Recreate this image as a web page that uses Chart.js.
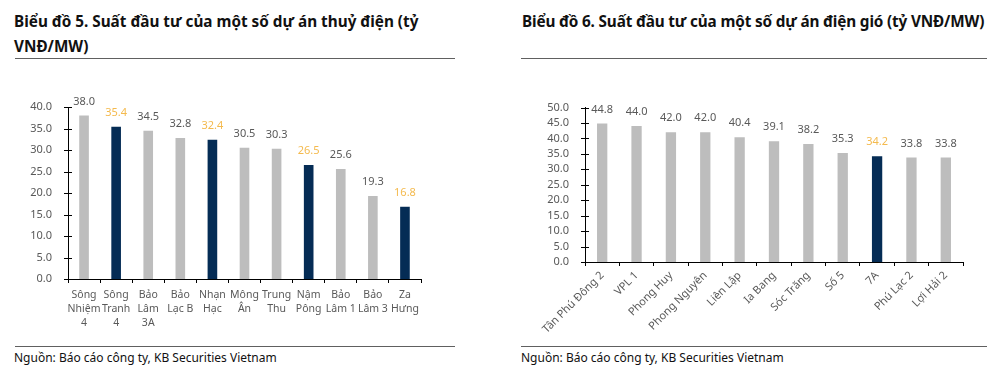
<!DOCTYPE html>
<html>
<head>
<meta charset="utf-8">
<script src="https://cdn.jsdelivr.net/npm/chart.js@4.4.1/dist/chart.umd.min.js"></script>
<style>
  html, body { margin:0; padding:0; background:#fff; width:1000px; height:369px; overflow:hidden; }
  body { position:relative; font-family:"Noto Sans", "Open Sans", sans-serif; }
  .title { position:absolute; font-weight:700; font-size:15.3px; line-height:25px; color:#111; white-space:nowrap; }
  .rule { position:absolute; height:0; border-top:1.5px solid #606060; }
  .src { position:absolute; font-size:12px; color:#111; white-space:nowrap; }
  .box { position:absolute; }
</style>
</head>
<body>
<div class="title" style="left:14px; top:9px;">Biểu đồ 5. Suất đầu tư của một số dự án thuỷ điện (tỷ<br>VNĐ/MW)</div>
<div class="rule" style="left:15px; top:58px; width:440px;"></div>
<div class="title" style="left:522px; top:9px; letter-spacing:-0.15px;">Biểu đồ 6. Suất đầu tư của một số dự án điện gió (tỷ VNĐ/MW)</div>
<div class="rule" style="left:521px; top:58px; width:466px;"></div>

<div class="box" style="left:0px; top:60px; width:460px; height:285px;"><canvas id="c1"></canvas></div>
<div class="box" style="left:520px; top:60px; width:470px; height:285px;"><canvas id="c2"></canvas></div>

<div class="rule" style="left:15px; top:346px; width:440px;"></div>
<div class="src" style="left:14px; top:349px;">Nguồn: Báo cáo công ty, KB Securities Vietnam</div>
<div class="rule" style="left:521px; top:346px; width:466px;"></div>
<div class="src" style="left:521px; top:349px;">Nguồn: Báo cáo công ty, KB Securities Vietnam</div>

<script>
// ---- Chart 5: hydro ----
const hydroCategories = [
  ["Sông","Nhiệm","4"], ["Sông","Tranh","4"], ["Bảo","Lâm","3A"], ["Bảo","Lạc B"],
  ["Nhạn","Hạc"], ["Mông","Ân"], ["Trung","Thu"], ["Nậm","Pông"],
  ["Bảo","Lâm 1"], ["Bảo","Lâm 3"], ["Za","Hưng"]
];
const hydroValues = [38.0, 35.4, 34.5, 32.8, 32.4, 30.5, 30.3, 26.5, 25.6, 19.3, 16.8];
const hydroHighlight = [false, true, false, false, true, false, false, true, false, false, true];
const hydroYTicks = [0, 5, 10, 15, 20, 25, 30, 35, 40];

// ---- Chart 6: wind ----
const windCategories = ["Tân Phú Đông 2", "VPL 1", "Phong Huy", "Phong Nguyên", "Liên Lập",
  "Ia Bang", "Sóc Trăng", "Số 5", "7A", "Phú Lạc 2", "Lợi Hải 2"];
const windValues = [44.8, 44.0, 42.0, 42.0, 40.4, 39.1, 38.2, 35.3, 34.2, 33.8, 33.8];
const windHighlight = [false, false, false, false, false, false, false, false, true, false, false];
const windYTicks = [0, 5, 10, 15, 20, 25, 30, 35, 40, 45, 50];

const GRAY = "#BDBDBD";
const NAVY = "#052C55";
const LABEL_GRAY = "#595959";
const LABEL_ORANGE = "#F4BA4E";
const FONT = "'Noto Sans', 'Open Sans', sans-serif";

const valueLabels = {
  id: "valueLabels",
  afterDatasetsDraw(chart, args, opts) {
    const ctx = chart.ctx;
    const meta = chart.getDatasetMeta(0);
    const vals = chart.data.datasets[0].data;
    ctx.save();
    ctx.font = "11px " + FONT;
    ctx.textAlign = "center";
    ctx.textBaseline = "middle";
    meta.data.forEach((el, i) => {
      ctx.fillStyle = opts.highlight[i] ? LABEL_ORANGE : LABEL_GRAY;
      ctx.fillText(vals[i].toFixed(1), el.x, el.y - 14);
    });
    ctx.restore();
  }
};

const crossTicks = {
  id: "crossTicks",
  afterDraw(chart) {
    const ctx = chart.ctx;
    const y = chart.scales.y;
    const x = chart.chartArea.left;
    ctx.save();
    ctx.strokeStyle = "#000";
    ctx.lineWidth = 1;
    y.ticks.forEach((t, i) => {
      const py = Math.round(y.getPixelForTick(i)) + 0.5;
      ctx.beginPath();
      ctx.moveTo(x - 4, py);
      ctx.lineTo(x + 4, py);
      ctx.stroke();
    });
    ctx.restore();
  }
};

function makeChart(id, cats, vals, hl, yTicks, o) {
  return new Chart(document.getElementById(id), {
    type: "bar",
    data: {
      labels: cats,
      datasets: [{
        data: vals,
        backgroundColor: hl.map(h => h ? NAVY : GRAY),
        barPercentage: o.barPct,
        categoryPercentage: 1.0
      }]
    },
    options: {
      responsive: true,
      maintainAspectRatio: false,
      animation: false,
      events: [],
      layout: { padding: { top: o.padTop, right: o.padRight, left: 0, bottom: 0 } },
      plugins: {
        legend: { display: false },
        tooltip: { enabled: false },
        valueLabels: { highlight: hl }
      },
      scales: {
        x: {
          grid: { display: true, drawOnChartArea: false, offset: true, color: "#000", tickLength: 4, tickColor: "#000" },
          border: { display: true, color: "#000", width: 1 },
          ticks: {
            color: LABEL_GRAY,
            font: { family: FONT, size: o.xFont, lineHeight: o.xLH },
            maxRotation: o.rot, minRotation: o.rot,
            autoSkip: false,
            padding: o.xPad
          },
          afterFit: s => { s.height = o.xHeight; }
        },
        y: {
          min: 0,
          max: yTicks[yTicks.length - 1],
          afterBuildTicks: s => { s.ticks = yTicks.map(v => ({ value: v })); },
          grid: { display: false },
          border: { display: true, color: "#000", width: 1 },
          ticks: {
            color: LABEL_GRAY,
            font: { family: FONT, size: 11 },
            padding: 8,
            autoSkip: false,
            callback: v => Number(v).toFixed(1)
          },
          afterFit: s => { s.width = o.yWidth; }
        }
      }
    },
    plugins: [valueLabels, crossTicks]
  });
}

makeChart("c1", hydroCategories, hydroValues, hydroHighlight, hydroYTicks,
  { barPct: 0.3, padTop: 47, padRight: 39, xHeight: 66, yWidth: 68, rot: 0, xFont: 10.5, xLH: 1.35, xPad: 5 });
makeChart("c2", windCategories, windValues, windHighlight, windYTicks,
  { barPct: 0.3, padTop: 47.5, padRight: 27, xHeight: 83, yWidth: 65, rot: 45, xFont: 11, xLH: 1.2, xPad: 3 });
</script>
</body>
</html>
